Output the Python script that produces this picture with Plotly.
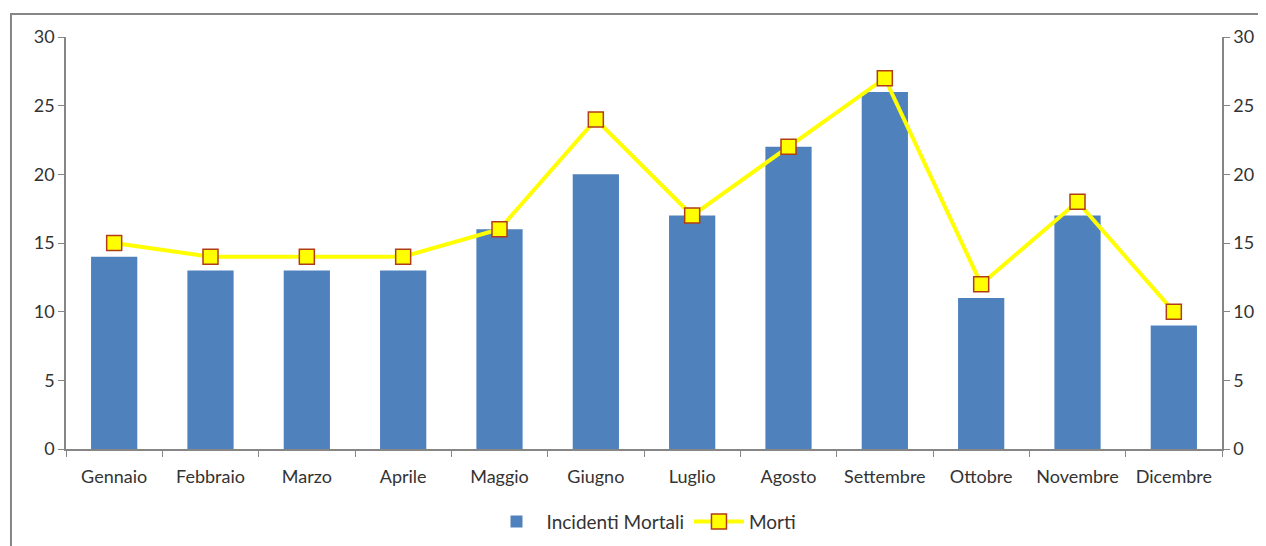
import plotly.graph_objects as go

mesi = ["Gennaio", "Febbraio", "Marzo", "Aprile", "Maggio", "Giugno", "Luglio",
        "Agosto", "Settembre", "Ottobre", "Novembre", "Dicembre"]
incidenti_mortali = [14, 13, 13, 13, 16, 20, 17, 22, 26, 11, 17, 9]
morti = [15, 14, 14, 14, 16, 24, 17, 22, 27, 12, 18, 10]

axis_grey = "#868686"
text_col = "#333333"

fig = go.Figure()
fig.add_trace(go.Bar(
    x=mesi, y=incidenti_mortali, name="Incidenti Mortali",
    marker=dict(color="#4F81BD", line=dict(width=0)),
    width=0.48,
))
fig.add_trace(go.Scatter(
    x=mesi, y=morti, name="Morti", yaxis="y2",
    mode="lines+markers",
    line=dict(color="#FFFF00", width=4),
    marker=dict(symbol="square", size=15, color="#FFFF00",
                line=dict(color="#B23C17", width=1.5)),
))

# the page body adds an 8px offset, so the figure is sized to compensate
fig.update_layout(
    width=1258, height=538,
    margin=dict(l=58, r=44, t=29, b=97, autoexpand=False),
    paper_bgcolor="white", plot_bgcolor="white",
    font=dict(family="Lato, Open Sans, sans-serif", size=17, color=text_col),
    showlegend=True,
    legend=dict(orientation="h", x=0.5, xanchor="center", y=-0.13, yanchor="top",
                font=dict(size=19, color=text_col), traceorder="normal", itemwidth=50),
    bargap=0.5,
    xaxis=dict(range=[-0.5, len(mesi) - 0.5], showline=True, linecolor=axis_grey,
               linewidth=1.5, ticks="outside", tickson="boundaries", ticklen=6,
               tickcolor=axis_grey, showgrid=False, zeroline=False,
               tickfont=dict(size=18), tickangle=0, ticklabelstandoff=11,
               automargin=False),
    yaxis=dict(range=[0, 30], dtick=5, showline=True, linecolor=axis_grey, linewidth=1.5,
               ticks="outside", ticklen=6, tickcolor=axis_grey, showgrid=False,
               zeroline=False, tickfont=dict(size=18), automargin=False),
    yaxis2=dict(range=[0, 30], dtick=5, overlaying="y", side="right", showline=True,
                linecolor=axis_grey, linewidth=1.5, ticks="outside", ticklen=6,
                tickcolor=axis_grey, showgrid=False, zeroline=False,
                tickfont=dict(size=18), automargin=False),
)

# outer chart border (left and top edges visible)
fig.add_shape(type="rect", xref="paper", yref="paper",
              x0=-0.0476, x1=1.2, y0=-0.4, y1=1.0558,
              line=dict(color=axis_grey, width=2), layer="below")

fig.write_html("out.html")
